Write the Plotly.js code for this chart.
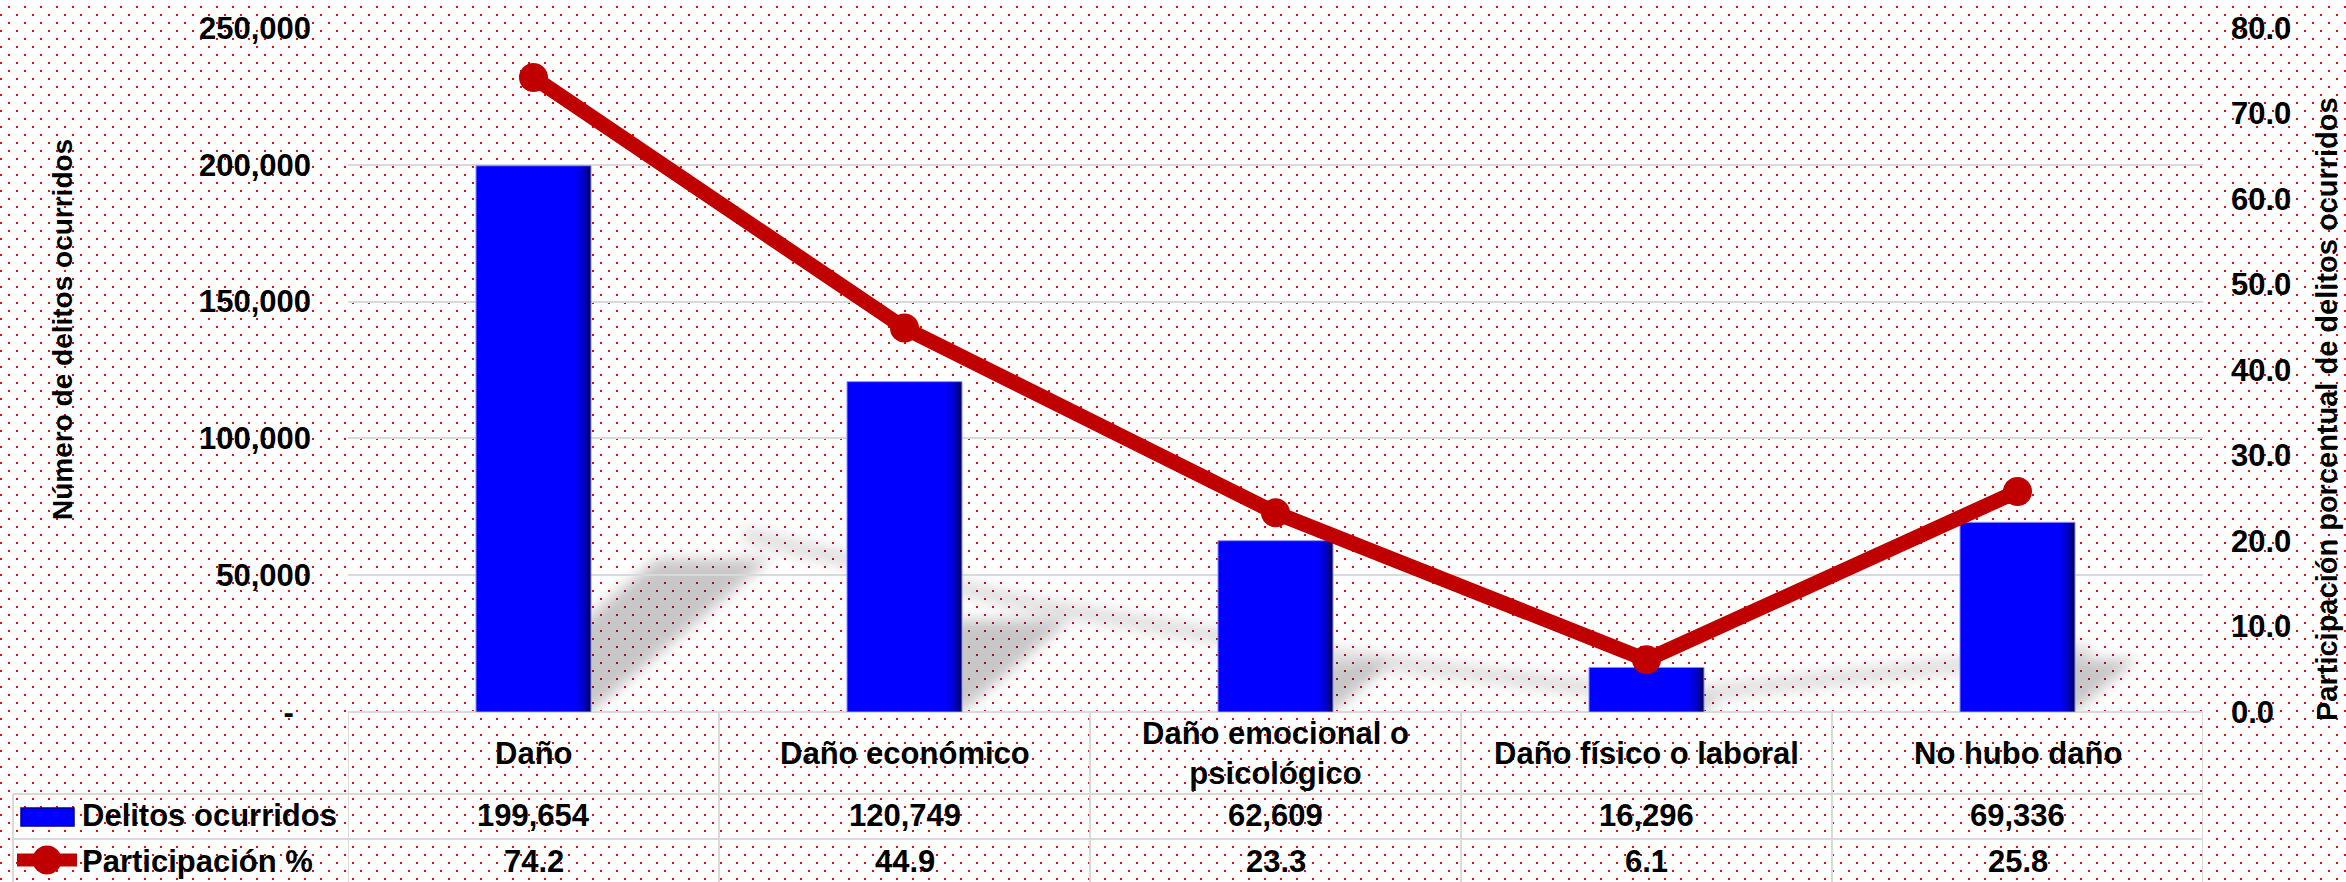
<!DOCTYPE html>
<html>
<head>
<meta charset="utf-8">
<script src="https://cdn.plot.ly/plotly-3.0.1.min.js"></script>
<style>
html, body { margin: 0; padding: 0; }
body {
  width: 2346px; height: 882px; overflow: hidden;
  background-color: #ffffff;
  background-image: url("data:image/svg+xml,%3Csvg xmlns='http://www.w3.org/2000/svg' width='16' height='16'%3E%3Crect x='0' y='14' width='2' height='2' fill='%23ff0000'/%3E%3Crect x='8' y='6' width='2' height='2' fill='%23ff0000'/%3E%3C/svg%3E");
}
#chart { width: 2346px; height: 882px; }
.subplot .shapelayer path { filter: blur(7px); }
</style>
</head>
<body>
<div id="chart"></div>
<script>
// ---- data ----
const categories = ['Daño', 'Daño económico', 'Daño emocional o<br>psicológico', 'Daño físico o laboral', 'No hubo daño'];
const delitos = [199654, 120749, 62609, 16296, 69336];
const participacion = [74.2, 44.9, 23.3, 6.1, 25.8];
const leftTickVals = [0, 50000, 100000, 150000, 200000, 250000];
const leftTickText = ['-', '50,000', '100,000', '150,000', '200,000', '250,000'];
const rightTickVals = [0, 10, 20, 30, 40, 50, 60, 70, 80];
const seriesNames = ['Delitos ocurridos', 'Participación %'];
const leftTitle = 'Número de delitos ocurridos';
const rightTitle = 'Participación porcentual de delitos ocurridos';

// ---- layout geometry (pixels) ----
const W = 2346, H = 882;
const L = 348, R = 2203, T = 28, B = 712;
const px = v => (v - L) / (R - L);
const py = v => (B - v) / (B - T);
const FONT = '"Liberation Sans", Arial, sans-serif';
const GRID = '#d9d9d9';
const BLUE = '#0000ff';
const RED = '#c00000';
const xIdx = categories.map((_, i) => i);
const Y1MAX = 250000, Y2MAX = 80;
const colPx = (R - L) / categories.length;

const bold = (size) => ({ family: FONT, size: size, color: '#000000', weight: 'bold' });

// ---- traces ----
const bars = {
  type: 'bar', x: xIdx, y: delitos, name: seriesNames[0],
  width: 0.31, yaxis: 'y',
  marker: { color: BLUE, line: { color: '#8c8cff', width: 1 } },
  hoverinfo: 'skip'
};
const line = {
  type: 'scatter', mode: 'lines+markers', x: xIdx, y: participacion, name: seriesNames[1],
  yaxis: 'y2', line: { color: RED, width: 15 },
  marker: { color: RED, size: 29 }, hoverinfo: 'skip', cliponaxis: false
};

// ---- shapes ----
const shapes = [];
const lineStyle = { color: GRID, width: 2 };
// shadows of bars (projected, blurred via css)
const hw = 0.155;
const kx = 0.33 * (B - T) / (Y1MAX * colPx);
delitos.forEach((v, i) => {
  const dx = kx * v, dy = 0.28 * v;
  shapes.push({
    type: 'path', xref: 'x', yref: 'y', layer: 'below',
    path: `M ${i - hw},0 L ${i + hw},0 L ${i + hw + dx},${dy} L ${i - hw + dx},${dy} Z`,
    fillcolor: 'rgba(0,0,0,0.22)', line: { width: 0 }
  });
});
// shadow of the line
const kx2 = 0.33 * (B - T) / (Y2MAX * colPx);
let sp = '';
participacion.forEach((p, i) => {
  sp += (i === 0 ? 'M ' : ' L ') + (i + kx2 * p) + ',' + (0.28 * p);
});
shapes.push({
  type: 'path', xref: 'x', yref: 'y2', layer: 'below', path: sp,
  fillcolor: 'rgba(0,0,0,0)', line: { color: 'rgba(0,0,0,0.13)', width: 16 }
});

// table lines
[794, 839].forEach(yv => shapes.push({
  type: 'line', xref: 'paper', yref: 'paper', layer: 'above',
  x0: px(13), x1: 1, y0: py(yv), y1: py(yv), line: lineStyle
}));
shapes.push({ type: 'line', xref: 'paper', yref: 'paper', layer: 'above',
  x0: px(13), x1: px(13), y0: py(794), y1: py(890), line: lineStyle });
for (let k = 0; k <= categories.length; k++) {
  shapes.push({ type: 'line', xref: 'x', yref: 'paper', layer: 'above',
    x0: k - 0.5, x1: k - 0.5, y0: 0, y1: py(890), line: lineStyle });
}
// legend keys
shapes.push({ type: 'rect', xref: 'paper', yref: 'paper', layer: 'above',
  x0: px(21), x1: px(74), y0: py(826), y1: py(808),
  fillcolor: BLUE, line: { color: '#00008b', width: 1.5 } });
shapes.push({ type: 'line', xref: 'paper', yref: 'paper', layer: 'above',
  x0: px(17), x1: px(77), y0: py(860), y1: py(860), line: { color: RED, width: 13 } });
shapes.push({ type: 'circle', xref: 'paper', yref: 'paper', layer: 'above',
  x0: px(32.5), x1: px(61.5), y0: py(874.5), y1: py(845.5),
  fillcolor: RED, line: { width: 0 } });

// ---- annotations ----
const annotations = [];
categories.forEach((c, i) => {
  annotations.push({ xref: 'x', yref: 'paper', x: i, y: py(753), text: c,
    showarrow: false, xanchor: 'center', yanchor: 'middle', font: bold(31) });
  annotations.push({ xref: 'x', yref: 'paper', x: i, y: py(816),
    text: delitos[i].toLocaleString('en-US'),
    showarrow: false, xanchor: 'center', yanchor: 'middle', font: bold(31) });
  annotations.push({ xref: 'x', yref: 'paper', x: i, y: py(861),
    text: participacion[i].toFixed(1),
    showarrow: false, xanchor: 'center', yanchor: 'middle', font: bold(31) });
});
annotations.push({ xref: 'paper', yref: 'paper', x: px(80), y: py(816), text: seriesNames[0],
  showarrow: false, xanchor: 'left', yanchor: 'middle', font: bold(31) });
annotations.push({ xref: 'paper', yref: 'paper', x: px(80), y: py(861), text: seriesNames[1],
  showarrow: false, xanchor: 'left', yanchor: 'middle', font: bold(31) });
annotations.push({ xref: 'paper', yref: 'paper', x: px(62), y: py(330), text: leftTitle,
  textangle: -90, showarrow: false, xanchor: 'center', yanchor: 'middle', font: bold(28) });
annotations.push({ xref: 'paper', yref: 'paper', x: px(2327), y: py(409), text: rightTitle,
  textangle: -90, showarrow: false, xanchor: 'center', yanchor: 'middle', font: bold(29) });

const layout = {
  width: W, height: H,
  margin: { l: L, r: W - R, t: T, b: H - B, pad: 0 },
  paper_bgcolor: 'rgba(0,0,0,0)', plot_bgcolor: 'rgba(0,0,0,0)',
  showlegend: false, hovermode: false,
  font: { family: FONT },
  xaxis: { range: [-0.5, categories.length - 0.5], showticklabels: false, showgrid: false,
    zeroline: false, showline: false, ticks: '', fixedrange: true },
  yaxis: { range: [0, Y1MAX], tickvals: leftTickVals,
    ticktext: leftTickText.map(t => t === '-' ? '-\u00a0\u00a0' : t),
    tickfont: bold(31), showgrid: true, gridcolor: GRID, gridwidth: 2,
    zeroline: true, zerolinecolor: GRID, zerolinewidth: 2, showline: false,
    ticks: '', ticklabelstandoff: 36, fixedrange: true },
  yaxis2: { range: [0, Y2MAX], overlaying: 'y', side: 'right', tickvals: rightTickVals,
    tickformat: '.1f', tickfont: bold(31), showgrid: false, zeroline: false, showline: false,
    ticks: '', ticklabelstandoff: 27, fixedrange: true },
  shapes: shapes, annotations: annotations
};

Plotly.newPlot('chart', [bars, line], layout, { staticPlot: true, displayModeBar: false }).then(gd => {
  // bevel-like shading on the bars (darker right edge)
  const svg = gd.querySelector('.main-svg');
  const ns = 'http://www.w3.org/2000/svg';
  let defs = svg.querySelector('defs');
  if (!defs) { defs = document.createElementNS(ns, 'defs'); svg.insertBefore(defs, svg.firstChild); }
  const grad = document.createElementNS(ns, 'linearGradient');
  grad.setAttribute('id', 'barBevel');
  grad.setAttribute('x1', '0'); grad.setAttribute('x2', '1');
  grad.setAttribute('y1', '0'); grad.setAttribute('y2', '0');
  [['0', '#0000ff'], ['0.86', '#0000ff'], ['0.94', '#0000c8'], ['1', '#00004a']].forEach(([o, c]) => {
    const s = document.createElementNS(ns, 'stop');
    s.setAttribute('offset', o); s.setAttribute('stop-color', c);
    grad.appendChild(s);
  });
  defs.appendChild(grad);
  gd.querySelectorAll('.barlayer .point path').forEach(p => { p.style.fill = 'url(#barBevel)'; });
});
</script>
</body>
</html>
